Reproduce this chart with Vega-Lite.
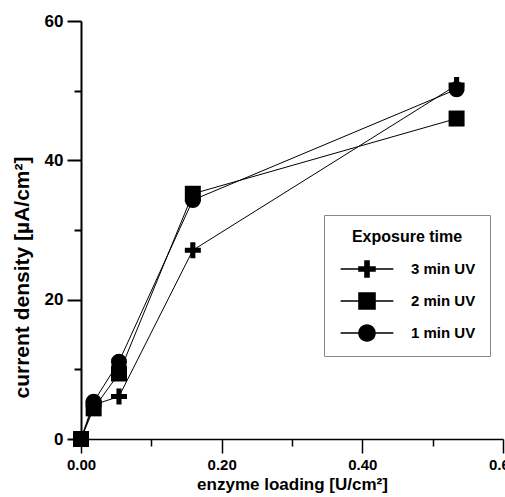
{
  "$schema": "https://vega.github.io/schema/vega-lite/v6.json",
  "width": 422,
  "height": 418,
  "autosize": {"type": "none"},
  "padding": {"left": 81, "top": 21, "right": 2, "bottom": 58},
  "background": "white",
  "config": {"view": {"stroke": null}, "font": "Liberation Sans"},
  "data": {
    "values": [
      {"series": "3 min UV", "loading": 0.0, "current": 0.0},
      {"series": "3 min UV", "loading": 0.018, "current": 4.9},
      {"series": "3 min UV", "loading": 0.054, "current": 6.1},
      {"series": "3 min UV", "loading": 0.159, "current": 27.1},
      {"series": "3 min UV", "loading": 0.534, "current": 50.8},
      {"series": "2 min UV", "loading": 0.0, "current": 0.0},
      {"series": "2 min UV", "loading": 0.018, "current": 4.4},
      {"series": "2 min UV", "loading": 0.054, "current": 9.4},
      {"series": "2 min UV", "loading": 0.159, "current": 35.2},
      {"series": "2 min UV", "loading": 0.534, "current": 46.0},
      {"series": "1 min UV", "loading": 0.0, "current": 0.0},
      {"series": "1 min UV", "loading": 0.018, "current": 5.35},
      {"series": "1 min UV", "loading": 0.054, "current": 11.1},
      {"series": "1 min UV", "loading": 0.159, "current": 34.3},
      {"series": "1 min UV", "loading": 0.534, "current": 50.2}
    ]
  },
  "encoding": {
    "x": {
      "field": "loading",
      "type": "quantitative",
      "scale": {"domain": [0, 0.6], "nice": false, "zero": false},
      "axis": {
        "title": "enzyme loading [U/cm²]",
        "values": [0, 0.1, 0.2, 0.3, 0.4, 0.5, 0.6],
        "labelExpr": "round(datum.value*10) % 2 == 0 ? format(datum.value, '.2f') : ''",
        "tickSize": {"condition": {"test": "round(datum.value*10) % 2 == 0", "value": 14}, "value": 7},
        "grid": false,
        "domainColor": "black",
        "domainWidth": 1.5,
        "tickColor": "black",
        "tickWidth": 1.5,
        "labelFontSize": 15,
        "labelFontWeight": "bold",
        "labelColor": "black",
        "labelPadding": 4,
        "labelFlush": false,
        "labelOverlap": false,
        "titleFontSize": 17,
        "titleFontWeight": "bold",
        "titleColor": "black",
        "titlePadding": 4
      }
    },
    "y": {
      "field": "current",
      "type": "quantitative",
      "scale": {"domain": [0, 60], "nice": false, "zero": false},
      "axis": {
        "title": "current density [µA/cm²]",
        "values": [0, 10, 20, 30, 40, 50, 60],
        "labelExpr": "datum.value % 20 == 0 ? datum.label : ''",
        "tickSize": {"condition": {"test": "datum.value % 20 == 0", "value": 14}, "value": 7},
        "grid": false,
        "domainColor": "black",
        "domainWidth": 2,
        "tickColor": "black",
        "tickWidth": 2,
        "labelFontSize": 17,
        "labelFontWeight": "bold",
        "labelColor": "black",
        "labelPadding": 4,
        "labelFlush": false,
        "labelOverlap": false,
        "titleFontSize": 21,
        "titleFontWeight": "bold",
        "titleColor": "black",
        "titleX": -59,
        "titleY": 256,
        "titleBaseline": "middle",
        "titleAlign": "center"
      }
    }
  },
  "layer": [
    {
      "mark": {"type": "line", "color": "black", "strokeWidth": 1},
      "encoding": {"detail": {"field": "series", "type": "nominal"}}
    },
    {
      "mark": {"type": "point", "filled": true, "color": "black", "opacity": 1, "size": 256},
      "encoding": {
        "shape": {
          "field": "series",
          "type": "nominal",
          "scale": {
            "domain": ["3 min UV", "2 min UV", "1 min UV"],
            "range": ["M-1,-0.32H-0.32V-1H0.32V-0.32H1V0.32H0.32V1H-0.32V0.32H-1Z", "square", "circle"]
          },
          "legend": null
        }
      }
    },
    {
      "mark": {"type": "point", "filled": true, "color": "black", "opacity": 0, "size": 256},
      "encoding": {
        "shape": {
          "field": "series",
          "type": "nominal",
          "scale": {
            "domain": ["3 min UV", "2 min UV", "1 min UV"],
            "range": [
              "M-3.3,-0.08H-1.1V0.08H-3.3Z M1.1,-0.08H3.3V0.08H1.1Z M-1.1,-0.35H-0.35V-1.1H0.35V-0.35H1.1V0.35H0.35V1.1H-0.35V0.35H-1.1Z",
              "M-3.3,-0.08H-1.1V0.08H-3.3Z M1.1,-0.08H3.3V0.08H1.1Z M-1.1,-1.1H1.1V1.1H-1.1Z",
              "M-3.3,-0.08H-1.1V0.08H-3.3Z M1.1,-0.08H3.3V0.08H1.1Z M-1.1,0A1.1,1.1 0 1,1 1.1,0A1.1,1.1 0 1,1 -1.1,0Z"
            ]
          },
          "legend": {
            "orient": "none",
            "legendX": 243,
            "legendY": 194,
            "title": "Exposure time",
            "titleFontSize": 16,
            "titleFontWeight": "bold",
            "titleColor": "black",
            "titleAnchor": "middle",
            "titlePadding": 16,
            "labelFontSize": 15,
            "labelFontWeight": "bold",
            "labelColor": "black",
            "labelOffset": 36,
            "symbolOffset": 21,
            "symbolSize": 256,
            "rowPadding": 14,
            "padding": 14,
            "strokeColor": "#888",
            "fillColor": "white",
            "symbolFillColor": "black",
            "symbolStrokeColor": "black",
            "symbolStrokeWidth": 0,
            "symbolOpacity": 1
          }
        }
      }
    }
  ],
  "resolve": {"scale": {"shape": "independent"}, "legend": {"shape": "independent"}}
}
